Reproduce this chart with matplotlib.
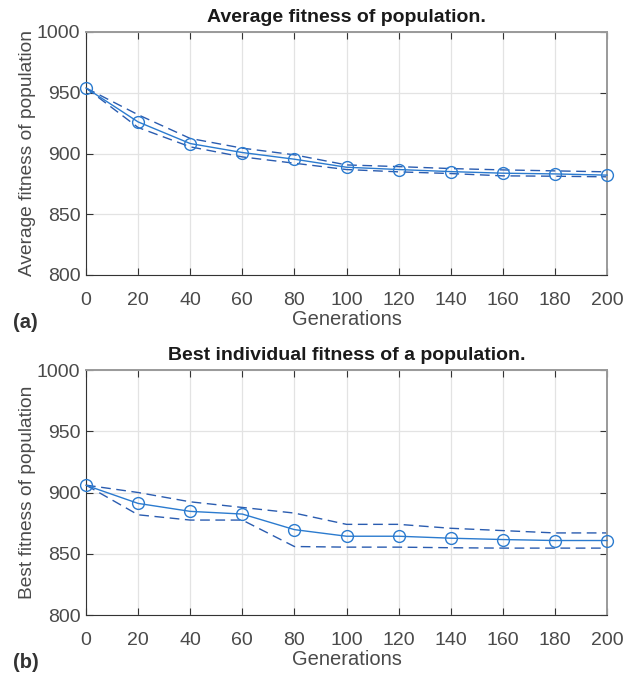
import numpy as np
import matplotlib.pyplot as plt

plt.rcParams.update({
    'font.family': ['Liberation Sans', 'DejaVu Sans'],
    'font.size': 14,
    'xtick.direction': 'in',
    'ytick.direction': 'in',
    'xtick.top': True,
    'ytick.right': True,
})

generations = [0, 20, 40, 60, 80, 100, 120, 140, 160, 180, 200]

# (a) average fitness of population
avg_mean = [953.9, 926.0, 908.2, 900.8, 895.3, 888.7, 886.8, 885.1, 883.8, 883.2, 882.2]
avg_upper = [953.9, 931.9, 912.4, 904.4, 898.9, 890.6, 889.2, 887.6, 886.5, 885.7, 884.9]
avg_lower = [953.9, 921.4, 905.5, 897.2, 892.0, 886.8, 884.9, 883.5, 881.6, 881.3, 880.8]

# (b) best individual fitness
best_mean = [905.9, 891.1, 884.6, 882.4, 869.7, 864.3, 864.3, 862.7, 861.6, 860.8, 860.8]
best_upper = [906.0, 900.0, 892.4, 887.8, 883.2, 874.0, 874.0, 870.8, 868.9, 867.0, 867.0]
best_lower = [906.0, 881.8, 877.5, 877.5, 855.9, 855.4, 855.4, 854.9, 854.6, 854.6, 854.6]

LINE_COLOR = '#2b7bcf'
BAND_COLOR = '#2a5cb0'
TEXT_COLOR = '#4a4a4a'


def draw_panel(ax, mean, upper, lower, title, ylabel, tag):
    ax.plot(generations, upper, '--', color=BAND_COLOR, lw=1.0, dashes=(7, 4))
    ax.plot(generations, lower, '--', color=BAND_COLOR, lw=1.0, dashes=(7, 4))
    ax.plot(generations, mean, '-o', color=LINE_COLOR, lw=1.0, ms=8.5,
            mfc='none', mec=LINE_COLOR, mew=1.0, clip_on=False, zorder=3)

    ax.set_xlim(0, 200)
    ax.set_ylim(800, 1000)
    ax.set_xticks(generations)
    ax.set_yticks([800, 850, 900, 950, 1000])
    ax.grid(True, color='#e3e3e3', lw=0.9)
    ax.set_axisbelow(True)
    ax.tick_params(colors='#333333', labelcolor=TEXT_COLOR, labelsize=14,
                   length=5, width=0.8)
    ax.tick_params(axis='x', pad=12)
    ax.tick_params(axis='y', pad=4)
    for side in ('left', 'bottom'):
        ax.spines[side].set_color('#333333')
    for side in ('top', 'right'):
        ax.spines[side].set_color('#9a9a9a')
        ax.spines[side].set_linewidth(1.4)

    ax.set_title(title, fontsize=14, fontweight='bold', color='#1a1a1a', pad=7)
    ax.set_xlabel('Generations', fontsize=14.5, color=TEXT_COLOR, labelpad=1)
    ax.set_ylabel(ylabel, fontsize=13.8, color=TEXT_COLOR, labelpad=1)
    ax.text(-0.14, -0.195, tag, transform=ax.transAxes, fontsize=14.5,
            fontweight='bold', color='#333333', ha='left', va='center')


fig = plt.figure(figsize=(6.31, 6.77), dpi=100)
W, H = 631, 677
ax_a = fig.add_axes([86 / W, 1 - 275 / H, (607 - 86) / W, (275 - 32) / H])
ax_b = fig.add_axes([86 / W, 1 - 615 / H, (607 - 86) / W, (615 - 370) / H])

draw_panel(ax_a, avg_mean, avg_upper, avg_lower,
           'Average fitness of population.', 'Average fitness of population', '(a)')
draw_panel(ax_b, best_mean, best_upper, best_lower,
           'Best individual fitness of a population.', 'Best fitness of population', '(b)')

fig.savefig('out.png', dpi=100, facecolor='white')
